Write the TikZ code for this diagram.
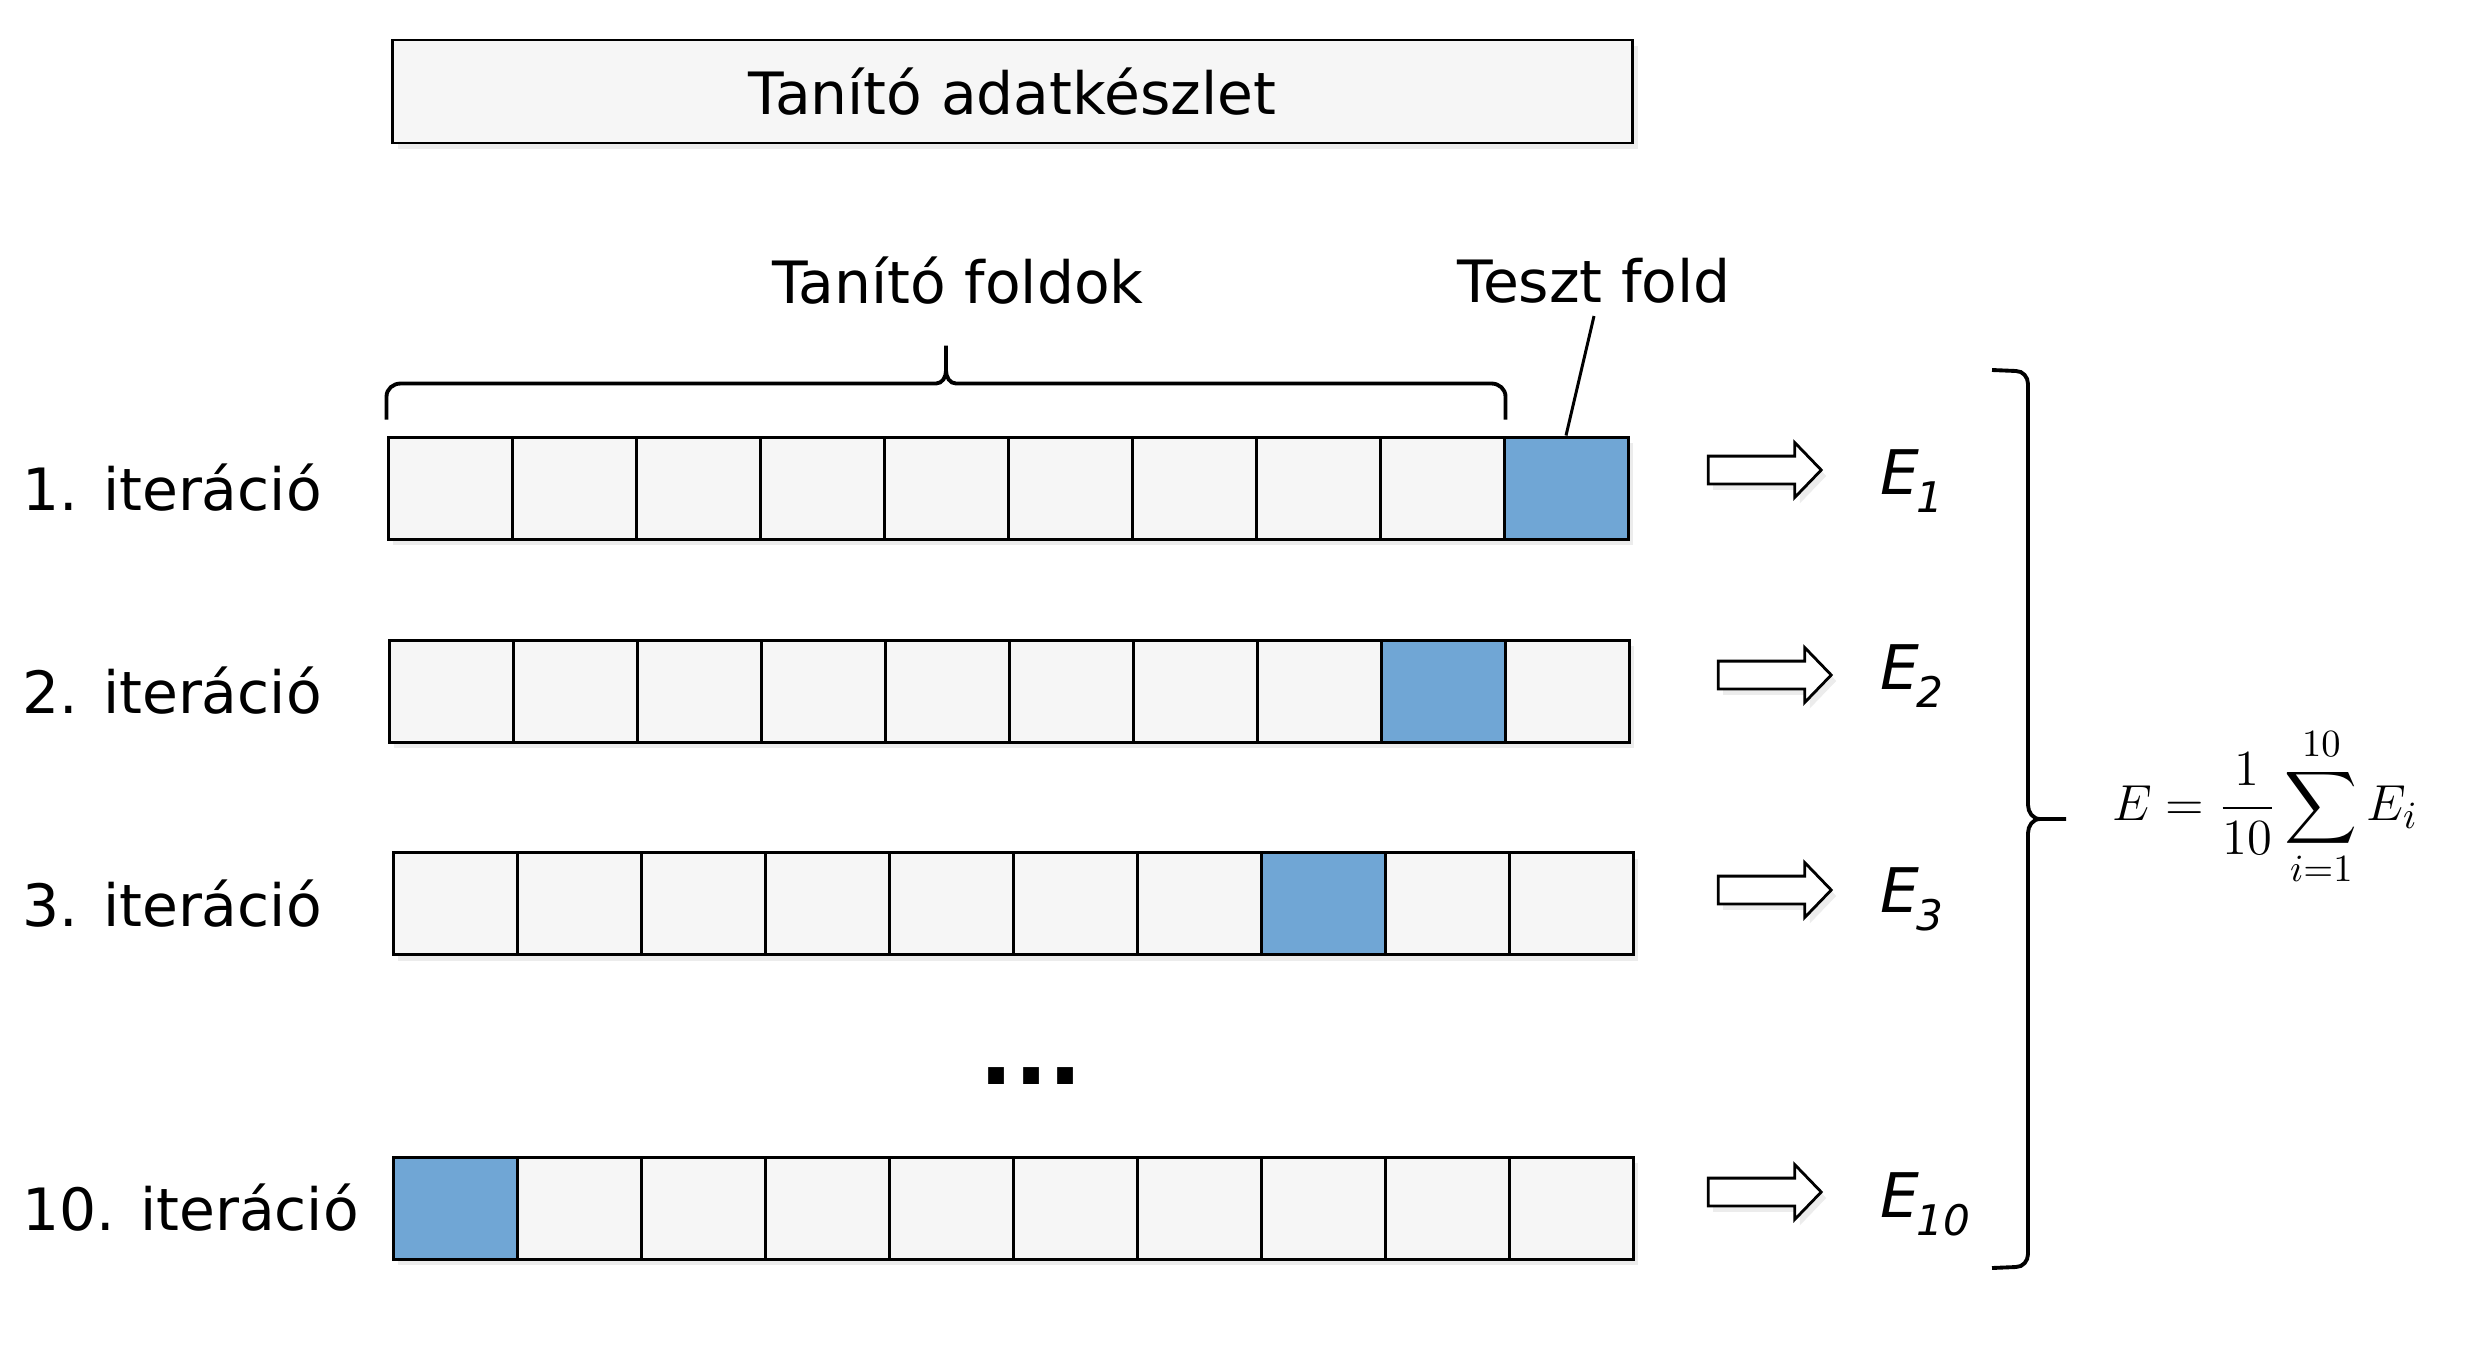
\documentclass[tikz,border=0pt]{standalone}
\usepackage{fontspec}
\setmainfont{DejaVu Sans}
\usepackage{amsmath}
\usetikzlibrary{calc,shapes.arrows,shadows}
\definecolor{foldgray}{RGB}{246,246,246}
\definecolor{testblue}{RGB}{112,166,213}
\newcommand{\Eerr}[1]{\textit{E}\kern-0.05em\raisebox{-0.3em}{\fontsize{12}{13}\selectfont\textit{#1}}}

\begin{document}
\begin{tikzpicture}[
  font=\fontsize{16.6}{20}\selectfont,
  softshadow/.style={drop shadow={shadow xshift=0.5mm,shadow yshift=-0.6mm,opacity=0.15}},
  fold/.style={draw,line width=0.85pt,fill=foldgray,minimum width=1.24cm,minimum height=1.02cm,inner sep=0pt,softshadow},
  testfold/.style={fold,fill=testblue},
  iterlabel/.style={anchor=west,inner sep=0pt},
  blockarrow/.style={single arrow,draw,fill=white,line width=0.8pt,inner xsep=0pt,inner ysep=0.125cm,minimum height=1.13cm,minimum width=0.52cm,single arrow head extend=0.135cm,single arrow tip angle=92,softshadow},
  errlabel/.style={anchor=base west,inner sep=0pt,font=\fontsize{17.5}{20}\selectfont},
  bracestyle/.style={line width=1.1pt}
]
\useasboundingbox (0,0) rectangle (24.92,-13.71);

\node[draw,line width=0.85pt,fill=foldgray,minimum width=12.40cm,minimum height=1.03cm,softshadow] (dataset) at (10.125,-0.915) {Tanító adatkészlet};

\foreach \r/\xl/\yc/\tf in {1/3.88/-4.88/10, 2/3.89/-6.91/9, 3/3.93/-9.035/8, 10/3.93/-12.08/1}{
  \foreach \k in {1,...,10}{
    \ifnum\k=\tf \def\st{testfold}\else\def\st{fold}\fi
    \node[\st] (r\r c\k) at (\xl+\k*1.24-0.62,\yc) {};
  }
  \node[iterlabel] (lbl\r) at (0.22,\yc) {\r. iteráció};
}

\node (trainlbl) at (9.58,-2.81) {Tanító foldok};
\node (testlbl) at (15.94,-2.81) {Teszt fold};
\draw[line width=0.85pt] (testlbl.south) -- (r1c10.north);

\coordinate (bl) at ([yshift=1.6mm]r1c1.north west);
\coordinate (br) at ([yshift=1.6mm]r1c9.north east);
\coordinate (bm) at ($(bl)!0.5!(br)$);
\draw[bracestyle] (bl) -- ++(0,0.23) to[out=90,in=180] ++(0.14,0.13)
  -- ([xshift=-1mm,yshift=3.6mm]bm) to[out=0,in=-90] ++(0.1,0.13) -- ++(0,0.25)
  -- ++(0,-0.25) to[out=-90,in=180] ++(0.1,-0.13)
  -- ([xshift=-1.4mm,yshift=3.6mm]br) to[out=0,in=90] ++(0.14,-0.13) -- (br);

\node[font=\fontsize{25.5}{30}\selectfont\bfseries] (dots) at (10.31,-10.76) {...};

\foreach \r/\xa/\ya/\yb in {1/17.58/-4.70/-4.94, 2/17.68/-6.75/-6.89, 3/17.68/-8.90/-9.12, 10/17.58/-11.92/-12.17}{
  \node[blockarrow] (arr\r) at (\xa,\ya) {};
  \node[errlabel] (err\r) at (18.80,\yb) {\Eerr{\r}};
}

\draw[bracestyle] (19.92,-3.70) -- (20.16,-3.71) to[out=0,in=90] (20.28,-3.84)
  -- (20.28,-8.05) to[out=-90,in=180] (20.40,-8.19) -- (20.66,-8.19)
  -- (20.40,-8.19) to[out=180,in=90] (20.28,-8.33)
  -- (20.28,-12.54) to[out=-90,in=0] (20.16,-12.67) -- (19.92,-12.68);

\node (avg) at (22.65,-8.07) {\fontsize{15.5}{19}\selectfont$\displaystyle E=\frac{1}{10}\sum_{i=1}^{10}E_i$};
\end{tikzpicture}
\end{document}
